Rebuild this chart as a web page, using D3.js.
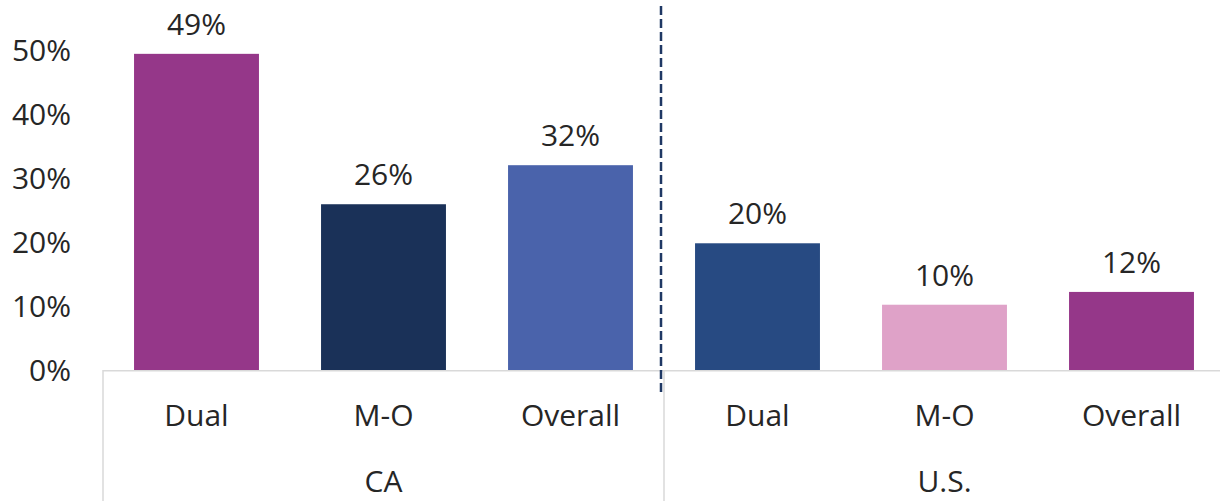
<!DOCTYPE html>
<html><head><meta charset="utf-8">
<script src="https://cdn.jsdelivr.net/npm/d3@7"></script>
<style>
html,body{margin:0;padding:0;background:#fff;}
svg{display:block;}
text{font-family:"Open Sans","Noto Sans",sans-serif;fill:#262626;}
</style></head>
<body>
<svg id="chart" width="1220" height="501"></svg>
<script>
const groups = ["CA", "U.S."];
const categories = ["Dual", "M-O", "Overall"];
const values = [0.494, 0.259, 0.32, 0.198, 0.102, 0.122];
const labels = ["49%", "26%", "32%", "20%", "10%", "12%"];
const colors = ["#953789", "#1A3158", "#4A63AB", "#274A82", "#DFA2C8", "#953789"];
const yTicks = [0, 0.1, 0.2, 0.3, 0.4, 0.5];

const svg = d3.select("#chart");
const mLeft = 103, mRight = 1225, mTop = 50, mBase = 370;
const fs = "30px";
const keys = values.map((d, i) => i);
const x = d3.scaleBand().domain(keys).range([mLeft, mRight]).paddingInner(0.332).paddingOuter(0.166);
const y = d3.scaleLinear().domain([0, 0.5]).range([mBase, mTop]);

// y tick labels
svg.append("g").selectAll("text").data(yTicks).join("text")
  .attr("x", 71).attr("y", d => y(d)).attr("dy", "0.36em")
  .attr("text-anchor", "end").style("font-size", fs)
  .text(d3.format(".0%"));

// bars
svg.append("g").selectAll("rect").data(keys).join("rect")
  .attr("x", i => x(i)).attr("width", x.bandwidth())
  .attr("y", i => y(values[i])).attr("height", i => mBase - y(values[i]))
  .attr("fill", i => colors[i]);

// axis lines
const axis = svg.append("g").attr("stroke", "#D9D9D9").attr("stroke-width", 1.5);
axis.append("line").attr("x1", mLeft).attr("x2", mRight).attr("y1", mBase + 0.75).attr("y2", mBase + 0.75);
const step = x.step();
[0, 3, 6].forEach(k => {
  const xx = mLeft + k * step;
  axis.append("line").attr("x1", xx).attr("x2", xx).attr("y1", mBase).attr("y2", 501);
});

// value labels
svg.append("g").selectAll("text").data(keys).join("text")
  .attr("x", i => x(i) + x.bandwidth() / 2).attr("y", i => y(values[i]) - 19)
  .attr("text-anchor", "middle").style("font-size", fs)
  .text(i => labels[i]);

// category labels
svg.append("g").selectAll("text").data(keys).join("text")
  .attr("x", i => x(i) + x.bandwidth() / 2).attr("y", 415).attr("dy", "0.36em")
  .attr("text-anchor", "middle").style("font-size", fs)
  .text(i => categories[i % 3]);

// group labels
svg.append("g").selectAll("text").data(groups).join("text")
  .attr("x", (d, g) => mLeft + (g * 3 + 1.5) * step).attr("y", 481).attr("dy", "0.36em")
  .attr("text-anchor", "middle").style("font-size", fs)
  .text(d => d);

// dashed separator
svg.append("line").attr("x1", 661).attr("x2", 661).attr("y1", 6).attr("y2", 396)
  .attr("stroke", "#1F3864").attr("stroke-width", 2.5).attr("stroke-dasharray", "9,4");
</script>
</body></html>
